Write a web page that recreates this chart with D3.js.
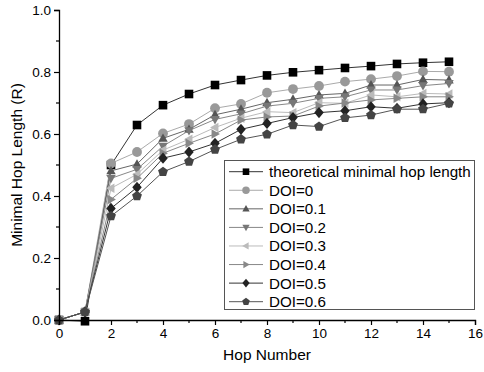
<!DOCTYPE html>
<html><head><meta charset="utf-8">
<script src="https://cdn.jsdelivr.net/npm/d3@7"></script>
<style>body{margin:0;background:#fff}text{font-family:"Liberation Sans",Arial,sans-serif}</style>
</head><body><svg id="c" width="484" height="372"></svg>
<script>
const hops = [0,1,2,3,4,5,6,7,8,9,10,11,12,13,14,15];
const seriesNames = ["theoretical minimal hop length","DOI=0","DOI=0.1","DOI=0.2","DOI=0.3","DOI=0.4","DOI=0.5","DOI=0.6"];
const theoretical = [0,-0.004,0.50,0.629,0.693,0.729,0.758,0.774,0.789,0.799,0.806,0.813,0.819,0.826,0.830,0.833];
const doi0  = [0,0.026,0.505,0.542,0.602,0.632,0.683,0.697,0.733,0.745,0.755,0.769,0.777,0.787,0.802,0.801];
const doi01 = [0,0.026,0.481,0.503,0.586,0.615,0.662,0.680,0.701,0.712,0.726,0.731,0.758,0.758,0.776,0.774];
const doi02 = [0,0.026,0.457,0.486,0.561,0.611,0.647,0.665,0.690,0.699,0.715,0.720,0.742,0.742,0.756,0.763];
const doi03 = [0,0.026,0.425,0.470,0.548,0.583,0.621,0.651,0.672,0.669,0.701,0.699,0.726,0.720,0.731,0.729];
const doi04 = [0,0.026,0.389,0.457,0.538,0.570,0.600,0.645,0.655,0.658,0.690,0.700,0.710,0.715,0.720,0.720];
const doi05 = [0,0.026,0.360,0.428,0.522,0.542,0.570,0.615,0.634,0.653,0.669,0.675,0.688,0.683,0.697,0.701];
const doi06 = [0,0.026,0.335,0.400,0.478,0.511,0.550,0.583,0.599,0.629,0.624,0.652,0.661,0.680,0.680,0.699];
const xTicks = [0,2,4,6,8,10,12,14,16];
const yTicks = [0,0.2,0.4,0.6,0.8,1.0];

const allSeries = [theoretical,doi0,doi01,doi02,doi03,doi04,doi05,doi06];
const markerColors = ["#000","#999","#555","#777","#bbb","#888","#222","#444"];
const lineColors = ["#333","#aaa","#666","#888","#bbb","#888","#333","#555"];
const shapes = ["square","circle","up","down","left","right","diamond","pentagon"];

const svg = d3.select("#c");
const x = d3.scaleLinear().domain([0,16]).range([59,475]);
const y = d3.scaleLinear().domain([0,1]).range([320,10]);

function shapePath(s, r){
  switch(s){
    case "square": return `M${-r},${-r}H${r}V${r}H${-r}Z`;
    case "circle": return d3.symbol(d3.symbolCircle, Math.PI*r*r*1.3)();
    case "up": return `M0,${-r*1.15}L${r*1.1},${r*0.8}L${-r*1.1},${r*0.8}Z`;
    case "down": return `M0,${r*1.15}L${r*1.1},${-r*0.8}L${-r*1.1},${-r*0.8}Z`;
    case "left": return `M${-r*1.15},0L${r*0.8},${-r*1.1}L${r*0.8},${r*1.1}Z`;
    case "right": return `M${r*1.15},0L${-r*0.8},${-r*1.1}L${-r*0.8},${r*1.1}Z`;
    case "diamond": return `M0,${-r*1.3}L${r*1.1},0L0,${r*1.3}L${-r*1.1},0Z`;
    case "pentagon": {
      const R = r*1.2; let p = [];
      for(let i=0;i<5;i++){const a=-Math.PI/2+i*2*Math.PI/5;p.push([R*Math.cos(a),R*Math.sin(a)]);}
      return "M"+p.map(d=>d.join(",")).join("L")+"Z";
    }
  }
}

// series: drawn in legend order so later series sit on top
const line = d3.line().x((d,i)=>x(hops[i])).y(d=>y(d));
for(let k=0;k<allSeries.length;k++){
  const data = allSeries[k];
  svg.append("path").attr("d",line(data)).attr("fill","none")
    .attr("stroke",lineColors[k]).attr("stroke-width",1);
  svg.append("g").selectAll("path").data(data).join("path")
    .attr("transform",(d,i)=>`translate(${x(hops[i])},${y(d)})`)
    .attr("d",shapePath(shapes[k],4.3))
    .attr("fill",markerColors[k]);
}

// axes
const xAxis = d3.axisBottom(x).tickValues(xTicks).tickFormat(d3.format("d")).tickSize(5).tickPadding(3);
const gx = svg.append("g").attr("transform","translate(0,320)").call(xAxis);
const yAxis = d3.axisLeft(y).tickValues(yTicks).tickFormat(d3.format(".1f")).tickSize(5).tickPadding(3);
const gy = svg.append("g").attr("transform","translate(59,0)").call(yAxis);
[gx,gy].forEach(g=>{
  g.select(".domain").attr("stroke","#000").attr("stroke-width",1.3);
  g.selectAll(".tick line").attr("stroke","#000").attr("stroke-width",1.2);
  g.selectAll(".tick text").attr("font-size",13.5).attr("fill","#000").attr("font-family","Liberation Sans, Arial, sans-serif");
});
// minor ticks
const xMinor = d3.range(1,16,2);
svg.append("g").selectAll("line").data(xMinor).join("line")
  .attr("x1",d=>x(d)).attr("x2",d=>x(d)).attr("y1",320).attr("y2",323)
  .attr("stroke","#000").attr("stroke-width",1.2);
const yMinor = [0.1,0.3,0.5,0.7,0.9];
svg.append("g").selectAll("line").data(yMinor).join("line")
  .attr("x1",56).attr("x2",59).attr("y1",d=>y(d)).attr("y2",d=>y(d))
  .attr("stroke","#000").attr("stroke-width",1.2);

// axis titles
svg.append("text").attr("x",267).attr("y",360).attr("text-anchor","middle")
  .attr("font-size",15.5).text("Hop Number");
svg.append("text").attr("transform","translate(22,165) rotate(-90)").attr("text-anchor","middle")
  .attr("font-size",15.5).text("Minimal Hop Length (R)");

// legend
const lg = svg.append("g");
lg.append("rect").attr("x",224.5).attr("y",160.5).attr("width",250).attr("height",149)
  .attr("fill","#fff").attr("stroke","#555").attr("stroke-width",1);
seriesNames.forEach((name,k)=>{
  const yy = 171.7 + k*18.57;
  lg.append("line").attr("x1",229).attr("x2",263).attr("y1",yy).attr("y2",yy)
    .attr("stroke",lineColors[k]).attr("stroke-width",1);
  lg.append("path").attr("transform",`translate(246,${yy})`).attr("d",shapePath(shapes[k],3.3))
    .attr("fill",markerColors[k]);
  lg.append("text").attr("x",269).attr("y",yy).attr("dy","0.36em").attr("font-size",15.2)
    .attr("fill","#000").text(name);
});
</script></body></html>
